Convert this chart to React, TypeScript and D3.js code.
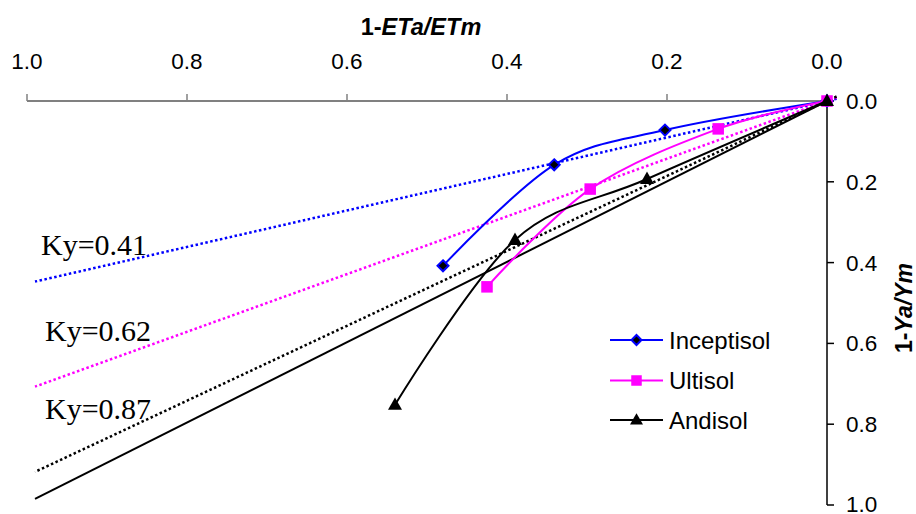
import React from "react";
import * as d3 from "d3";

// Relative evapotranspiration deficit (1-ETa/ETm) vs relative yield decrease (1-Ya/Ym)
const soilNames = ["Inceptisol", "Ultisol", "Andisol"];
const inceptisolX = [0, 0.2025, 0.341, 0.48];
const inceptisolY = [0, 0.072, 0.158, 0.408];
const ultisolX = [0, 0.136, 0.296, 0.425];
const ultisolY = [0, 0.069, 0.218, 0.46];
const andisolX = [0, 0.225, 0.39, 0.54];
const andisolY = [0, 0.193, 0.344, 0.752];

// Fitted Ky lines (start and end points) and the 1:1 line
const kyLabels = ["Ky=0.41", "Ky=0.62", "Ky=0.87"];
const kyStartX = -0.012;
const kyEndX = 0.99;
const kyEndY = [0.447, 0.707, 0.918];
const oneToOneEnd = [0.99, 0.985];

const axisTicks = [0, 0.2, 0.4, 0.6, 0.8, 1.0];

const W = 916;
const H = 514;

const x = d3.scaleLinear().domain([0, 1]).range([827, 27]);
const y = d3.scaleLinear().domain([0, 1]).range([101, 505]);

const colors = ["#0000ff", "#ff00ff", "#000000"];
const kyColors = ["#0000ff", "#ff00ff", "#000000"];
const seriesX = [inceptisolX, ultisolX, andisolX];
const seriesY = [inceptisolY, ultisolY, andisolY];
const markerSizes = [11, 11.5, 14];

const smooth = d3
  .line<[number, number]>()
  .x((d) => x(d[0]))
  .y((d) => y(d[1]))
  .curve(d3.curveCatmullRom.alpha(0));

const straight = d3
  .line<[number, number]>()
  .x((d) => x(d[0]))
  .y((d) => y(d[1]));

const sans = "'Liberation Sans', Arial, sans-serif";
const serif = "'Liberation Serif', 'Times New Roman', serif";

function Marker({ kind, cx, cy, s }: { kind: number; cx: number; cy: number; s: number }) {
  if (kind === 0) {
    const r = s * 0.5;
    return (
      <path
        d={`M${cx},${cy - r}L${cx + r},${cy}L${cx},${cy + r}L${cx - r},${cy}Z`}
        fill="#000"
        stroke="#0000ff"
        strokeWidth={2}
      />
    );
  }
  if (kind === 1) {
    return <rect x={cx - s / 2} y={cy - s / 2} width={s} height={s} fill="#ff00ff" />;
  }
  const h = s * 0.88;
  return (
    <path
      d={`M${cx},${cy - h * 0.6}L${cx + s / 2},${cy + h * 0.4}L${cx - s / 2},${cy + h * 0.4}Z`}
      fill="#000"
    />
  );
}

export default function App() {
  const legendRows = [340, 380.5, 420];
  const kyLabelPos = [
    [41, 255],
    [45, 341],
    [45, 419],
  ];
  return (
    <svg
      width={W}
      height={H}
      viewBox={`0 0 ${W} ${H}`}
      style={{ position: "absolute", left: 0, top: 0, background: "#fff" }}
    >
      <rect width={W} height={H} fill="#fff" />

      {/* top axis */}
      <text x={421} y={35} textAnchor="middle" fontFamily={sans} fontWeight="bold" fontSize={23.5}>
        1-<tspan fontStyle="italic">ETa/ETm</tspan>
      </text>
      <line x1={x(1)} x2={x(0)} y1={y(0)} y2={y(0)} stroke="#808080" strokeWidth={2} />
      {axisTicks.map((t) => (
        <g key={"xt" + t}>
          <line x1={x(t)} x2={x(t)} y1={y(0) - 7} y2={y(0)} stroke="#808080" strokeWidth={1.5} />
          <text x={x(t)} y={69} textAnchor="middle" fontFamily={sans} fontSize={22.5}>
            {t.toFixed(1)}
          </text>
        </g>
      ))}

      {/* right axis */}
      <line x1={x(0)} x2={x(0)} y1={y(0)} y2={y(1)} stroke="#000" strokeWidth={1.5} />
      {axisTicks.map((t) => (
        <g key={"yt" + t}>
          <line x1={x(0)} x2={x(0) + 7} y1={y(t)} y2={y(t)} stroke="#000" strokeWidth={1.5} />
          <text x={846} y={Math.min(y(t) + 8, 512)} fontFamily={sans} fontSize={22.5}>
            {t.toFixed(1)}
          </text>
        </g>
      ))}
      <text
        transform="translate(912,308) rotate(-90)"
        textAnchor="middle"
        fontFamily={sans}
        fontWeight="bold"
        fontSize={23}
      >
        1-<tspan fontStyle="italic">Ya/Ym</tspan>
      </text>

      {/* Ky lines */}
      {kyEndY.map((ey, i) => (
        <path
          key={"ky" + i}
          d={straight([
            [kyStartX, (ey / kyEndX) * kyStartX],
            [kyEndX, ey],
          ]) as string}
          fill="none"
          stroke={kyColors[i]}
          strokeWidth={2.5}
          strokeDasharray="2.5 2.5"
        />
      ))}
      <path
        d={straight([[0, 0], [oneToOneEnd[0], oneToOneEnd[1]]]) as string}
        fill="none"
        stroke="#000"
        strokeWidth={2}
      />
      {kyLabels.map((l, i) => (
        <text key={l} x={kyLabelPos[i][0]} y={kyLabelPos[i][1]} fontFamily={serif} fontSize={30}>
          {l}
        </text>
      ))}

      {/* soil series */}
      {seriesX.map((xs, i) => {
        const pts = xs.map((v, j) => [v, seriesY[i][j]] as [number, number]);
        return (
          <g key={"s" + i}>
            <path d={smooth(pts) as string} fill="none" stroke={colors[i]} strokeWidth={2} />
            {pts.map((p, j) => (
              <Marker key={j} kind={i} cx={x(p[0])} cy={y(p[1])} s={markerSizes[i]} />
            ))}
          </g>
        );
      })}

      {/* legend */}
      {soilNames.map((n, i) => (
        <g key={n}>
          <line x1={610} x2={663} y1={legendRows[i]} y2={legendRows[i]} stroke={colors[i]} strokeWidth={2} />
          <Marker kind={i} cx={636.5} cy={legendRows[i]} s={markerSizes[i] - 1} />
          <text x={669} y={legendRows[i] + 8.5} fontFamily={sans} fontSize={24}>
            {n}
          </text>
        </g>
      ))}
    </svg>
  );
}
